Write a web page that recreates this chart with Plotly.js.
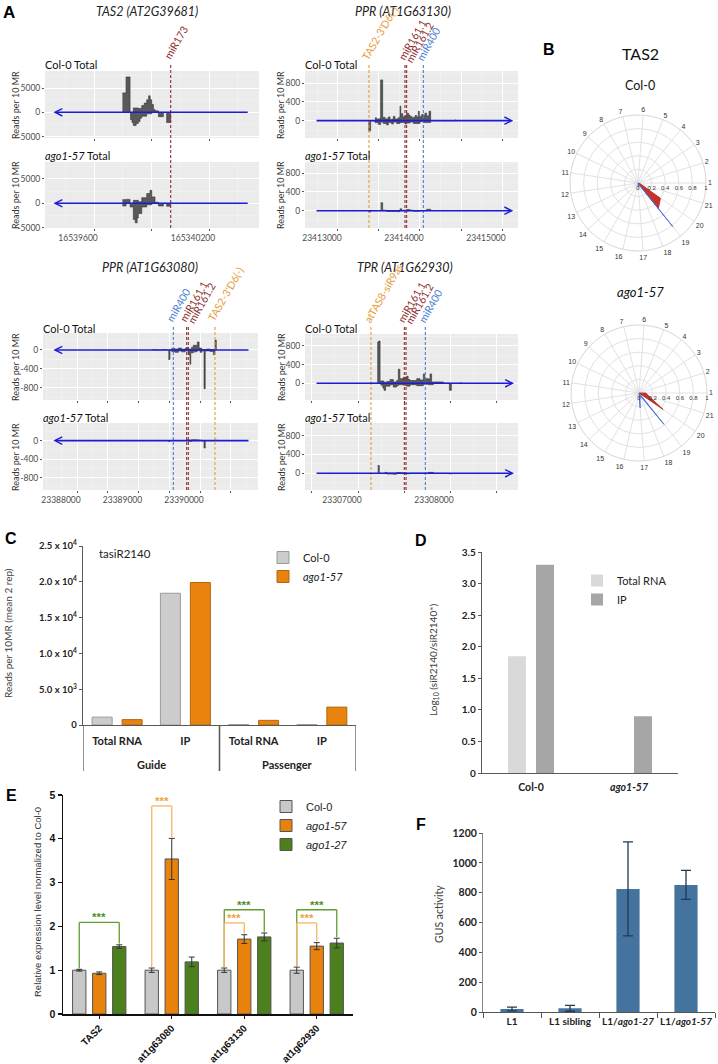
<!DOCTYPE html>
<html><head><meta charset="utf-8">
<script src="https://cdn.plot.ly/plotly-3.0.1.min.js"></script>
<style>html,body{margin:0;padding:0;background:#fff}#fig{width:718px;height:1064px}</style>
</head><body><div id="fig"></div>
<script>
const W = 718, H = 1064;
const FONT = 'Lato, "Open Sans", sans-serif';
const ARIAL = '"Liberation Sans", Arial, sans-serif';

/* ================= Panel A data ================= */
const TAS2_XTICKS = [16539600, 16539900, 16540200];
const TAS2_XLABELS = ['16539600', '', '165340200'];
const PPR63130_XTICKS = [23413000, 23413500, 23414000, 23414500, 23415000];
const PPR63130_XLABELS = ['23413000', '', '23414000', '', '23415000'];
const PPR63080_XTICKS = [23388000, 23388500, 23389000, 23389500, 23390000, 23390500];
const PPR63080_XLABELS = ['23388000', '', '23389000', '', '23390000', ''];
const TPR_XTICKS = [23306500, 23307000, 23307500, 23308000, 23308500];
const TPR_XLABELS = ['', '23307000', '', '23308000', ''];
const TAS2_YTICKS = [-5000, 0, 5000];
const PPR63130_YTICKS = [0, 400, 800];
const PPR63080_YTICKS = [-800, -400, 0];
const TPR_YTICKS = [0, 400, 800];

// gene extent [tail, head] of the strand arrow
const TAS2_SPAN = [16540410, 16539388];
const PPR63130_SPAN = [23412720, 23415138];
const PPR63080_SPAN = [23390813, 23387615];
const TPR_SPAN = [23306533, 23308696];

// target sites [name, position, kind]
const TAS2_SITES = [['miR173', 16540000, 'mir']];
const PPR63130_SITES = [["TAS2-3'D6(-)", 23413378, 'tas'], ['miR161.1', 23413817, 'mir'], ['miR161.2', 23413837, 'mir'], ['miR400', 23414041, 'm400']];
const PPR63080_SITES = [['miR400', 23389566, 'm400'], ['miR161.1', 23389783, 'mir'], ['miR161.2', 23389810, 'mir'], ["TAS2-3'D6(-)", 23390244, 'tas']];
const TPR_SITES = [['atTAS8-siR9as', 23307141, 'tas'], ['miR161.1', 23307504, 'mir'], ['miR161.2', 23307522, 'mir'], ['miR400', 23307732, 'm400']];

// read profiles [bin start, reads per 10 MR] (step, ends with 0)
const TAS2_COL0_PLUS = [[16539748,4000],[16539767,7300],[16539788,0],[16539805,900],[16539831,800],[16539849,1400],[16539862,1900],[16539875,2600],[16539885,3400],[16539893,2600],[16539901,1600],[16539910,600],[16539918,300],[16539936,0]];
const TAS2_COL0_MINUS = [[16539788,-1500],[16539798,-2100],[16539805,-2700],[16539820,-2300],[16539831,-1900],[16539840,-1200],[16539849,-800],[16539875,-300],[16539901,0],[16539936,-900],[16539962,0],[16539979,-2100],[16540000,0]];
const TAS2_AGO_PLUS = [[16539748,750],[16539767,800],[16539788,0],[16539805,600],[16539831,300],[16539849,1150],[16539875,2000],[16539892,2650],[16539901,1300],[16539918,200],[16539936,0]];
const TAS2_AGO_MINUS = [[16539748,-550],[16539767,0],[16539788,-750],[16539805,-3300],[16539815,-4000],[16539825,-3000],[16539831,-2100],[16539849,-750],[16539875,-300],[16539901,0],[16539936,-550],[16539962,0],[16539979,-600],[16540000,0]];

const PPR63130_COL0_PLUS = [[23413451,60],[23413470,30],[23413492,40],[23413520,870],[23413545,60],[23413553,70],[23413575,30],[23413593,40],[23413614,80],[23413635,20],[23413654,30],[23413675,90],[23413695,30],[23413715,40],[23413740,70],[23413756,310],[23413766,150],[23413790,80],[23413817,100],[23413837,160],[23413860,120],[23413878,90],[23413900,60],[23413919,70],[23413940,110],[23413959,80],[23413980,200],[23413992,90],[23414020,130],[23414041,110],[23414060,160],[23414081,100],[23414110,200],[23414130,0],[23414427,15],[23414440,0]];
const PPR63130_COL0_MINUS = [[23413370,-220],[23413398,0],[23413451,-40],[23413492,-80],[23413520,-30],[23413553,-60],[23413593,-90],[23413614,-40],[23413654,-70],[23413675,-30],[23413715,-60],[23413756,-40],[23413817,-70],[23413837,-50],[23413878,-30],[23413919,-60],[23414000,-20],[23414041,-40],[23414130,0]];
const PPR63130_AGO_PLUS = [[23413520,170],[23413545,10],[23413593,0],[23413756,40],[23413776,10],[23413837,25],[23413878,10],[23413919,0],[23414081,30],[23414130,0]];
const PPR63130_AGO_MINUS = [[23413370,-30],[23413398,0],[23413593,-15],[23413715,-20],[23413756,0],[23413919,-10],[23414000,0]];

const PPR63080_COL0_PLUS = [[23389214,5],[23389300,0],[23389400,8],[23389458,0],[23389539,30],[23389593,20],[23389648,40],[23389702,15],[23389756,30],[23389783,50],[23389810,20],[23389864,60],[23389892,100],[23389946,60],[23389957,170],[23389985,40],[23390027,10],[23390108,20],[23390163,10],[23390244,210],[23390265,0]];
const PPR63080_COL0_MINUS = [[23389485,-200],[23389512,0],[23389539,-30],[23389593,-50],[23389648,-20],[23389702,-40],[23389756,-20],[23389810,-100],[23389837,-300],[23389850,-60],[23389892,-40],[23389946,-30],[23389957,0],[23390000,-50],[23390027,-20],[23390065,-820],[23390085,-20],[23390163,-30],[23390217,-100],[23390244,0]];
const PPR63080_AGO_PLUS = [[23389783,15],[23389837,10],[23389864,20],[23389946,15],[23390000,10],[23390027,0],[23390244,15],[23390265,0]];
const PPR63080_AGO_MINUS = [[23389485,-20],[23389512,0],[23389810,-15],[23389864,0],[23390065,-160],[23390085,0]];

const TPR_COL0_PLUS = [[23307130,20],[23307149,0],[23307214,880],[23307225,900],[23307240,50],[23307283,20],[23307312,40],[23307348,80],[23307384,30],[23307420,60],[23307438,300],[23307455,100],[23307493,130],[23307529,150],[23307545,80],[23307565,60],[23307601,60],[23307638,100],[23307674,70],[23307710,200],[23307725,100],[23307764,90],[23307783,200],[23307800,30],[23307927,0],[23308109,10],[23308127,0]];
const TPR_COL0_MINUS = [[23307246,-40],[23307270,-100],[23307283,-150],[23307300,-60],[23307348,-30],[23307384,-80],[23307420,-50],[23307438,-30],[23307493,-40],[23307529,-60],[23307565,-30],[23307638,-50],[23307710,-20],[23307764,-30],[23307819,0],[23307993,-150],[23308015,0]];
const TPR_AGO_PLUS = [[23307214,165],[23307232,0],[23307293,20],[23307312,5],[23307420,15],[23307464,10],[23307493,0],[23307764,20],[23307819,0]];
const TPR_AGO_MINUS = [[23307312,-15],[23307384,-20],[23307420,0],[23307493,-10],[23307565,0],[23307993,-15],[23308015,0]];

const SAMPLE_LABELS = ['Col-0 Total', '<i>ago1-57</i> Total'];

/* ================= Panel B data ================= */
const POLAR_CATS = ['1','2','3','4','5','6','7','8','9','10','11','12','13','14','15','16','17','18','19','20','21'];
const RADIAL_TICKS = [0, 0.2, 0.4, 0.6, 0.8, 1];
const COL0_RED = [0,0,0,0,0,0,0,0,0,0,0,0,0,0,0,0,0,0,0.48,0.40,0.03];
const COL0_BLUE = [0,0,0,0,0,0,0,0,0,0,0,0,0,0,0,0,0.06,0.02,0.82,0,0];
const AGO_RED = [0.10,0,0,0,0,0,0,0,0,0,0,0,0,0,0,0,0,0,0,0.43,0.15];
const AGO_BLUE = [0,0,0,0,0,0,0,0,0,0,0,0,0,0,0,0,0.22,0.04,0.59,0,0];

/* ================= Panel C data ================= */
const C_GROUPS = ['Guide', 'Guide', 'Passenger', 'Passenger'];
const C_KINDS = ['Total RNA', 'IP', 'Total RNA', 'IP'];
const C_COL0 = [1100, 18400, 60, 60];
const C_AGO157 = [750, 19900, 650, 2500];
const C_YTICKS = [0, 5000, 10000, 15000, 20000, 25000];
const C_YLABELS = ['0', '5.0 x 10<sup>3</sup>', '1.0 x 10<sup>4</sup>', '1.5 x 10<sup>4</sup>', '2.0 x 10<sup>4</sup>', '2.5 x 10<sup>4</sup>'];

/* ================= Panel D data ================= */
const D_CATS = ['Col-0', '<i>ago1-57</i>'];
const D_TOTAL = [1.85, null];
const D_IP = [3.3, 0.9];
const D_YTICKS = [0, 0.5, 1, 1.5, 2, 2.5, 3, 3.5];
const D_YLABELS = ['0', '0.5', '1.0', '1.5', '2.0', '2.5', '3.0', '3.5'];

/* ================= Panel E data ================= */
const E_CATS = ['TAS2', 'at1g63080', 'at1g63130', 'at1g62930'];
const E_COL0 = [1.00, 1.00, 1.00, 1.00];
const E_COL0_ERR = [0.02, 0.05, 0.05, 0.07];
const E_A57 = [0.93, 3.54, 1.71, 1.55];
const E_A57_ERR = [0.03, 0.47, 0.10, 0.08];
const E_A27 = [1.54, 1.19, 1.76, 1.62];
const E_A27_ERR = [0.04, 0.11, 0.09, 0.11];
// [gene index, from series, to series, bracket level, colour]
const E_SIG = [[0,0,2,2.09,'g'],[1,0,1,4.75,'o'],[2,0,2,2.38,'g'],[2,0,1,2.08,'o'],[3,0,2,2.38,'g'],[3,0,1,2.08,'o']];

/* ================= Panel F data ================= */
const F_CATS = ['L1', 'L1 sibling', 'L1/<i>ago1-27</i>', 'L1/<i>ago1-57</i>'];
const F_GUS = [20, 25, 825, 852];
const F_ERR = [13, 20, 315, 97];

/* ================= helpers ================= */
const X = p => p / W;
const Y = p => 1 - p / H;
const axs = n => (n === 1 ? '' : String(n));
const data = [], shapes = [], annotations = [];
function txt(text, x, y, font, extra) {
  return Object.assign({xref: 'paper', yref: 'paper', x: X(x), y: Y(y), text: text, showarrow: false,
    xanchor: 'center', yanchor: 'middle', font: Object.assign({family: FONT, size: 11, color: '#222'}, font || {})}, extra || {});
}

const layout = {
  width: W, height: H, margin: {l: 0, r: 0, t: 0, b: 0},
  paper_bgcolor: '#ffffff', plot_bgcolor: 'rgba(0,0,0,0)',
  font: {family: FONT, color: '#222'}, barmode: 'overlay', hovermode: false,
  showlegend: true
};

/* ================= Panel A build ================= */
const SITE_COLORS = {mir: '#8e2f2f', tas: '#e69b3a', m400: '#4a7fd2'};
const GENES = [
  {title: 'TAS2 (AT2G39681)', tx: 147, ty: 12, xd: [45, 259], yd: [[71, 138], [162, 228]],
   yr: [[-5300, 8530], [-5060, 8460]], yt: TAS2_YTICKS, ym: 2500, xr: [16539344, 16540461],
   xt: TAS2_XTICKS, xl: TAS2_XLABELS, xm: 150, siteTop: 64, siteBottom: 228, span: TAS2_SPAN, sites: TAS2_SITES,
   tracks: [[TAS2_COL0_PLUS, TAS2_COL0_MINUS], [TAS2_AGO_PLUS, TAS2_AGO_MINUS]], lab: [65, 156], ttx: 15, tty: [105, 195]},
  {title: 'PPR (AT1G63130)', tx: 403, ty: 12, xd: [305, 518], yd: [[71, 138], [162, 228]],
   yr: [[-370, 1060], [-370, 1040]], yt: PPR63130_YTICKS, ym: 200, xr: [23412598, 23415195],
   xt: PPR63130_XTICKS, xl: PPR63130_XLABELS, xm: 250, siteTop: 65, siteBottom: 228, span: PPR63130_SPAN, sites: PPR63130_SITES,
   tracks: [[PPR63130_COL0_PLUS, PPR63130_COL0_MINUS], [PPR63130_AGO_PLUS, PPR63130_AGO_MINUS]], lab: [65, 156], ttx: 280, tty: [105, 195]},
  {title: 'PPR (AT1G63080)', tx: 150, ty: 267, xd: [43, 258], yd: [[333, 400], [423, 490]],
   yr: [[-1060, 360], [-1065, 380]], yt: PPR63080_YTICKS, ym: 200, xr: [23387447, 23390943],
   xt: PPR63080_XTICKS, xl: PPR63080_XLABELS, xm: 250, siteTop: 326, siteBottom: 490, span: PPR63080_SPAN, sites: PPR63080_SITES,
   tracks: [[PPR63080_COL0_PLUS, PPR63080_COL0_MINUS], [PPR63080_AGO_PLUS, PPR63080_AGO_MINUS]], lab: [328, 418], ttx: 15, tty: [367, 457]},
  {title: 'TPR (AT1G62930)', tx: 405, ty: 267, xd: [305, 518], yd: [[334, 400], [423, 490]],
   yr: [[-355, 1050], [-355, 1070]], yt: TPR_YTICKS, ym: 200, xr: [23306424, 23308739],
   xt: TPR_XTICKS, xl: TPR_XLABELS, xm: 250, siteTop: 327, siteBottom: 490, span: TPR_SPAN, sites: TPR_SITES,
   tracks: [[TPR_COL0_PLUS, TPR_COL0_MINUS], [TPR_AGO_PLUS, TPR_AGO_MINUS]], lab: [328, 418], ttx: 281, tty: [367, 457]}
];

function stepTrace(arr, n) {
  return {type: 'scatter', mode: 'lines', x: arr.map(d => d[0]), y: arr.map(d => d[1]),
    line: {shape: 'hv', color: '#333333', width: 0.6}, fill: 'tozeroy', fillcolor: '#595959',
    xaxis: 'x' + axs(n), yaxis: 'y' + axs(n), showlegend: false, hoverinfo: 'skip'};
}

GENES.forEach((g, gi) => {
  const n0 = gi * 2 + 1;
  annotations.push(txt('<i>' + g.title + '</i>', g.tx, g.ty, {size: 12.5}));
  [0, 1].forEach(k => {
    const n = n0 + k, s = axs(n);
    layout['xaxis' + s] = {
      domain: [X(g.xd[0]), X(g.xd[1])], range: g.xr, anchor: 'y' + s,
      tickmode: 'array', tickvals: g.xt, ticktext: k === 1 ? g.xl : g.xt.map(() => ''),
      showticklabels: k === 1,
      ticks: 'outside', ticklen: 2, tickcolor: '#555', ticklabelshift: -16,
      showgrid: true, gridcolor: '#ffffff', gridwidth: 1,
      minor: {tickmode: 'linear', tick0: g.xt[0], dtick: g.xm, showgrid: true, gridcolor: '#f5f5f5', gridwidth: 0.5},
      zeroline: false, showline: false, tickfont: {family: FONT, size: 8.5, color: '#4d4d4d'}
    };
    layout['yaxis' + s] = {
      domain: [Y(g.yd[k][1]), Y(g.yd[k][0])], range: g.yr[k], anchor: 'x' + s,
      tickmode: 'array', tickvals: g.yt, ticktext: g.yt.map(v => String(v)),
      ticks: 'outside', ticklen: 2, tickcolor: '#555',
      showgrid: true, gridcolor: '#ffffff', gridwidth: 1,
      minor: {tickmode: 'linear', tick0: 0, dtick: g.ym, showgrid: true, gridcolor: '#f5f5f5', gridwidth: 0.5},
      zeroline: false, showline: false, tickfont: {family: FONT, size: 8.5, color: '#4d4d4d'}
    };
    shapes.push({type: 'rect', xref: 'x' + s + ' domain', yref: 'y' + s + ' domain', x0: 0, x1: 1, y0: 0, y1: 1,
      fillcolor: '#ebebeb', line: {width: 0}, layer: 'below'});
    data.push(stepTrace(g.tracks[k][0], n), stepTrace(g.tracks[k][1], n));
    annotations.push({xref: 'x' + s, yref: 'y' + s, axref: 'x' + s, ayref: 'y' + s,
      x: g.span[1], y: 0, ax: g.span[0], ay: 0, text: '', showarrow: true,
      arrowhead: 5, arrowsize: 0.9, arrowwidth: 1.6, arrowcolor: '#1c1cd6', standoff: 0});
    annotations.push(txt(SAMPLE_LABELS[k], g.xd[0] - 2, g.lab[k], {size: 11, color: '#111'}, {xanchor: 'left'}));
    annotations.push(txt('Reads per 10 MR', g.ttx, g.tty[k], {size: 9, color: '#333'}, {textangle: -90}));
  });
  const xs = 'x' + axs(n0);
  g.sites.forEach(([name, pos, kind]) => {
    const col = SITE_COLORS[kind];
    shapes.push({type: 'line', xref: xs, yref: 'paper', x0: pos, x1: pos, y0: Y(g.siteBottom), y1: Y(g.siteTop),
      line: {color: col, width: 1.1, dash: '3px,2px'}});
    const second = /\.2$/.test(name);
    annotations.push({xref: xs, yref: 'paper', x: pos, y: Y(g.siteTop), text: name, textangle: -60,
      xanchor: 'left', yanchor: 'bottom', xshift: second ? -6 : -12, yshift: second ? -2 : 0, showarrow: false,
      font: {family: FONT, size: 10.5, color: col}});
  });
});

/* ================= Panel B build ================= */
const closeR = a => a.concat([a[0]]);
function polarAxis(dx, dy) {
  return {
    domain: {x: [X(dx[0]), X(dx[1])], y: [Y(dy[1]), Y(dy[0])]}, bgcolor: 'rgba(0,0,0,0)',
    angularaxis: {type: 'category', categoryorder: 'array', categoryarray: POLAR_CATS, direction: 'counterclockwise',
      rotation: 0, gridcolor: '#e2e2e2', linecolor: '#d6d6d6', showline: true, ticks: '',
      tickfont: {family: ARIAL, size: 7, color: '#333'}},
    radialaxis: {range: [0, 1], angle: 0, tickangle: 0, tickmode: 'array', tickvals: RADIAL_TICKS,
      ticktext: RADIAL_TICKS.map(v => String(v)), gridcolor: '#e2e2e2', showline: false, ticks: '',
      tickfont: {family: ARIAL, size: 6, color: '#333'}}
  };
}
layout.polar = polarAxis([570, 706], [115, 251]);
layout.polar2 = polarAxis([571, 707], [325, 461]);
[['polar', COL0_RED, COL0_BLUE], ['polar2', AGO_RED, AGO_BLUE]].forEach(([sp, red, blue]) => {
  data.push({type: 'scatterpolar', subplot: sp, mode: 'lines', r: closeR(red), theta: closeR(POLAR_CATS),
    fill: 'toself', fillcolor: '#c8322c', line: {color: '#b0281f', width: 0.8}, showlegend: false, hoverinfo: 'skip'});
  data.push({type: 'scatterpolar', subplot: sp, mode: 'lines', r: closeR(blue), theta: closeR(POLAR_CATS),
    fill: 'toself', fillcolor: '#5b7be0', line: {color: '#4466dd', width: 0.8}, showlegend: false, hoverinfo: 'skip'});
});
annotations.push(txt('<b>B</b>', 549, 50, {family: ARIAL, size: 16, color: '#000'}));
annotations.push(txt('TAS2', 640, 53, {size: 16, color: '#111'}));
annotations.push(txt('Col-0', 640, 86, {size: 12.5, color: '#111'}));
annotations.push(txt('<i>ago1-57</i>', 640, 292, {size: 13, color: '#111'}));
annotations.push(txt('<b>A</b>', 9, 13, {family: ARIAL, size: 17, color: '#000'}));

/* ================= Panel C ================= */
const BOLD = {family: FONT, size: 10, color: '#222', weight: 'bold'};
const C_POS = C_KINDS.map((_, i) => i);
layout.xaxis9 = {domain: [X(83), X(356)], range: [-0.5, C_KINDS.length - 0.5], anchor: 'y9', showline: true,
  linecolor: '#595959', linewidth: 1.3, tickmode: 'array', tickvals: C_POS, ticktext: C_KINDS, ticks: '',
  showgrid: false, zeroline: false, ticklabelstandoff: 5, tickfont: Object.assign({}, BOLD, {size: 11})};
layout.yaxis9 = {domain: [Y(725), Y(546)], range: [0, 25000], anchor: 'x9', tickmode: 'array', tickvals: C_YTICKS,
  ticktext: C_YLABELS, ticks: 'outside', ticklen: 3, tickcolor: '#595959', showline: true, linecolor: '#595959',
  linewidth: 1.3, showgrid: false, zeroline: false, tickfont: Object.assign({}, BOLD, {size: 9.5})};
data.push({type: 'bar', x: C_POS, y: C_COL0, name: 'Col-0', width: 0.293, offset: -0.366,
  marker: {color: '#cccccc', line: {color: '#9a9a9a', width: 1}}, xaxis: 'x9', yaxis: 'y9', legend: 'legend'});
data.push({type: 'bar', x: C_POS, y: C_AGO157, name: '<i>ago1-57</i>', width: 0.293, offset: 0.073,
  marker: {color: '#e8830f', line: {color: '#b5650a', width: 1}}, xaxis: 'x9', yaxis: 'y9', legend: 'legend'});
// group labels and dividers from C_GROUPS
const cGroupNames = C_GROUPS.filter((g, i) => C_GROUPS.indexOf(g) === i);
cGroupNames.forEach(name => {
  const idx = C_POS.filter(i => C_GROUPS[i] === name);
  const lo = Math.min(...idx) - 0.5, hi = Math.max(...idx) + 0.5;
  annotations.push({xref: 'x9', yref: 'paper', x: (lo + hi) / 2, y: Y(764), text: name, showarrow: false,
    xanchor: 'center', yanchor: 'middle', font: Object.assign({}, BOLD, {size: 11})});
  [lo, hi].forEach(xv => shapes.push({type: 'line', xref: 'x9', yref: 'paper', x0: xv, x1: xv, y0: Y(725), y1: Y(771),
    line: {color: '#595959', width: 1.3}}));
});
layout.legend = {x: X(263), y: Y(543), xanchor: 'left', yanchor: 'top', bgcolor: 'rgba(0,0,0,0)',
  font: {family: FONT, size: 11, color: '#222'}, tracegroupgap: 0};
annotations.push(txt('<b>C</b>', 11, 538, {family: ARIAL, size: 16, color: '#000'}));
annotations.push(txt('tasiR2140', 97, 553, {size: 11.5, color: '#222'}, {xanchor: 'left'}));
annotations.push(txt('Reads per 10MR (mean 2 rep)', 8, 633, {size: 10, color: '#404040'}, {textangle: -90}));

/* ================= Panel D ================= */
layout.xaxis10 = {type: 'category', domain: [X(482), X(678)], anchor: 'y10', showline: true, linecolor: '#595959',
  linewidth: 1.3, ticks: '', showgrid: false, zeroline: false, ticklabelstandoff: 4,
  tickfont: Object.assign({}, BOLD, {size: 10.5})};
layout.yaxis10 = {domain: [Y(773), Y(552)], range: [0, 3.5], anchor: 'x10', tickmode: 'array', tickvals: D_YTICKS,
  ticktext: D_YLABELS, ticks: 'outside', ticklen: 3, tickcolor: '#595959', showline: true, linecolor: '#595959',
  linewidth: 1.3, showgrid: false, zeroline: false, tickfont: Object.assign({}, BOLD, {size: 10})};
data.push({type: 'bar', x: D_CATS, y: D_TOTAL, name: 'Total RNA', width: 0.184, offset: -0.235,
  marker: {color: '#d9d9d9'}, xaxis: 'x10', yaxis: 'y10', legend: 'legend2'});
data.push({type: 'bar', x: D_CATS, y: D_IP, name: 'IP', width: 0.184, offset: 0.051,
  marker: {color: '#a6a6a6'}, xaxis: 'x10', yaxis: 'y10', legend: 'legend2'});
layout.legend2 = {x: X(577), y: Y(566), xanchor: 'left', yanchor: 'top', bgcolor: 'rgba(0,0,0,0)',
  font: {family: FONT, size: 11, color: '#222'}, tracegroupgap: 0};
annotations.push(txt('<b>D</b>', 421, 540, {family: ARIAL, size: 16, color: '#000'}));
annotations.push(txt('Log<sub>10</sub> (siR2140/siR2140*)', 433, 660, {size: 10, color: '#404040'}, {textangle: -90}));

/* ================= Panel E ================= */
const E_BAR_W = 0.184, E_BAR_OFF = [-0.368, -0.092, 0.184];
const E_VALS = [E_COL0, E_A57, E_A27], E_ERRS = [E_COL0_ERR, E_A57_ERR, E_A27_ERR];
const E_NAMES = ['Col-0', '<i>ago1-57</i>', '<i>ago1-27</i>'];
const E_COLORS = ['#c8c8c8', '#e8820c', '#4b801d'];
layout.xaxis11 = {type: 'category', domain: [X(63), X(353)], anchor: 'y11', showline: true, linecolor: '#111',
  linewidth: 1.5, ticks: 'outside', ticklen: 3, tickcolor: '#111', tickwidth: 1.3, tickangle: -45, showgrid: false,
  zeroline: false, tickfont: {family: ARIAL, size: 10, color: '#111', weight: 'bold'}};
layout.yaxis11 = {domain: [Y(1014), Y(795)], range: [0, 5], anchor: 'x11', dtick: 1, ticks: 'outside', ticklen: 4,
  tickcolor: '#111', tickwidth: 1.3, showline: true, linecolor: '#111', linewidth: 1.5, showgrid: false,
  zeroline: false, tickfont: {family: ARIAL, size: 10.5, color: '#111', weight: 'bold'}};
E_VALS.forEach((vals, i) => {
  data.push({type: 'bar', x: E_CATS, y: vals, name: E_NAMES[i], width: E_BAR_W, offset: E_BAR_OFF[i],
    marker: {color: E_COLORS[i], line: {color: '#555', width: 1}},
    error_y: {type: 'data', array: E_ERRS[i], color: '#333', thickness: 1, width: 3},
    xaxis: 'x11', yaxis: 'y11', legend: 'legend3'});
});
layout.legend3 = {x: X(266), y: Y(792), xanchor: 'left', yanchor: 'top', bgcolor: 'rgba(0,0,0,0)',
  font: {family: ARIAL, size: 11, color: '#222'}, tracegroupgap: 0};
const SIG_LINE = {g: '#5f9e2f', o: '#f3b667'}, SIG_TEXT = {g: '#4f8f23', o: '#f0a23f'};
E_SIG.forEach(([gi, a, b, lvl, c]) => {
  const xa = gi + E_BAR_OFF[a] + E_BAR_W / 2, xb = gi + E_BAR_OFF[b] + E_BAR_W / 2;
  const ya = E_VALS[a][gi] + E_ERRS[a][gi] + 0.02, yb = E_VALS[b][gi] + E_ERRS[b][gi] + 0.03;
  const ln = {color: SIG_LINE[c], width: 1.3};
  const base = {type: 'line', xref: 'x11', yref: 'y11', line: ln};
  shapes.push(Object.assign({}, base, {x0: xa, x1: xa, y0: ya, y1: lvl}),
              Object.assign({}, base, {x0: xa, x1: xb, y0: lvl, y1: lvl}),
              Object.assign({}, base, {x0: xb, x1: xb, y0: lvl, y1: yb}));
  annotations.push({xref: 'x11', yref: 'y11', x: (xa + xb) / 2, y: lvl, text: '***', showarrow: false,
    yanchor: 'bottom', yshift: -3, font: {family: ARIAL, size: 11.5, color: SIG_TEXT[c], weight: 'bold'}});
});
annotations.push(txt('<b>E</b>', 11, 795, {family: ARIAL, size: 16, color: '#000'}));
annotations.push(txt('Relative expression level normalized to Col-0', 37, 902, {family: ARIAL, size: 9.5, color: '#333'}, {textangle: -90}));

/* ================= Panel F ================= */
layout.xaxis12 = {type: 'category', domain: [X(483), X(715)], anchor: 'y12', showline: true, linecolor: '#555',
  linewidth: 1.2, ticks: 'outside', tickson: 'boundaries', ticklen: 5, tickcolor: '#555', showgrid: false,
  zeroline: false, tickangle: 0, tickfont: Object.assign({}, BOLD, {size: 10})};
layout.yaxis12 = {domain: [Y(1012), Y(833)], range: [0, 1200], anchor: 'x12', dtick: 200, ticks: 'outside',
  ticklen: 3, tickcolor: '#555', showline: true, linecolor: '#888', linewidth: 1, showgrid: false, zeroline: false,
  tickfont: Object.assign({}, BOLD, {size: 10.5})};
data.push({type: 'bar', x: F_CATS, y: F_GUS, width: 0.4, marker: {color: '#44749d'},
  error_y: {type: 'data', array: F_ERR, color: '#1f3a56', thickness: 1.3, width: 5},
  xaxis: 'x12', yaxis: 'y12', showlegend: false});
annotations.push(txt('<b>F</b>', 421, 824, {family: ARIAL, size: 16, color: '#000'}));
annotations.push(txt('GUS activity', 439, 914, {size: 10.5, color: '#404040'}, {textangle: -90}));

layout.shapes = shapes;
layout.annotations = annotations;
Plotly.newPlot('fig', data, layout, {staticPlot: true, displayModeBar: false});
</script></body></html>
